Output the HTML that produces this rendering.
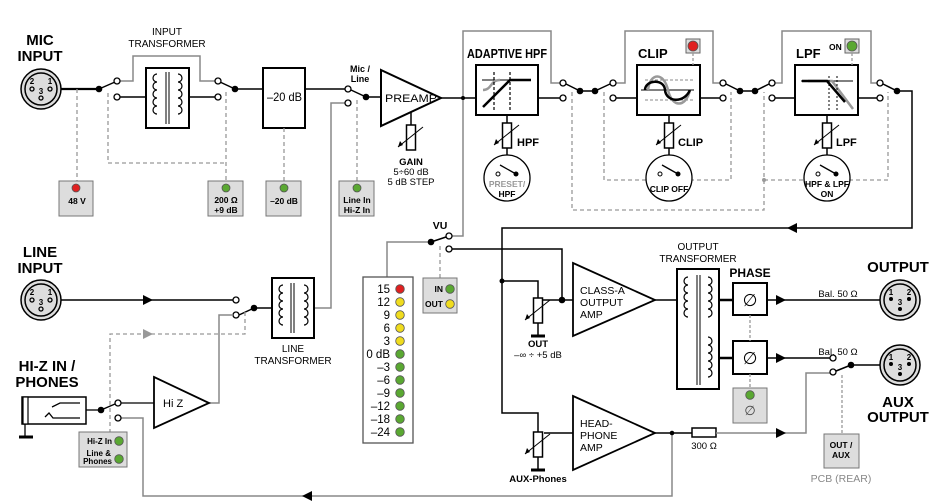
<!DOCTYPE html>
<html><head><meta charset="utf-8"><style>
html,body{margin:0;padding:0;background:#fff;}
svg{display:block;font-family:"Liberation Sans",sans-serif;}
.b{font-weight:bold;}
</style></head><body>
<svg width="946" height="504" viewBox="0 0 946 504" xmlns="http://www.w3.org/2000/svg">
<defs>
<g id="xlr"><circle r="20" fill="#ddd" stroke="#000" stroke-width="1.5"/><circle r="16" fill="#ddd" stroke="#000" stroke-width="1.5"/></g>
<g id="oc"><circle r="3" fill="#fff" stroke="#000" stroke-width="1.3"/></g>
<g id="dot"><circle r="3.3" fill="#000"/></g>
<g id="vr"><rect x="-4.5" y="0" width="9" height="25" fill="#fff" stroke="#000" stroke-width="1.5"/><line x1="-13" y1="22" x2="12" y2="2" stroke="#000" stroke-width="1"/><path d="M-13 22 l2 -6 l3 4z" fill="#000"/></g>
<path id="coil" d="M0 0 a4 4 0 0 1 0 8 a4 4 0 0 1 0 8 a4 4 0 0 1 0 8 a4 4 0 0 1 0 8 a4 4 0 0 1 0 8" fill="none" stroke="#000" stroke-width="1.2"/>
<path id="coilR" d="M0 0 a4 4 0 0 0 0 8 a4 4 0 0 0 0 8 a4 4 0 0 0 0 8 a4 4 0 0 0 0 8 a4 4 0 0 0 0 8" fill="none" stroke="#000" stroke-width="1.2"/>
</defs>

<g class="b" font-size="15" text-anchor="middle">
<text x="40" y="45">MIC</text><text x="40" y="61">INPUT</text>
<text x="40" y="257">LINE</text><text x="40" y="273">INPUT</text>
<text x="47" y="371">HI-Z IN /</text><text x="47" y="387">PHONES</text>
<text x="898" y="272">OUTPUT</text>
<text x="898" y="407">AUX</text><text x="898" y="422">OUTPUT</text>
</g>
<g font-size="10" text-anchor="middle">
<text x="167" y="35">INPUT</text><text x="167" y="47">TRANSFORMER</text>
<text x="293" y="352">LINE</text><text x="293" y="364">TRANSFORMER</text>
<text x="698" y="250">OUTPUT</text><text x="698" y="262">TRANSFORMER</text>
</g>

<use href="#xlr" x="41" y="89"/>
<g font-size="8" class="b" text-anchor="middle"><text x="32" y="84">2</text><text x="50" y="84">1</text><text x="41" y="94">3</text></g>
<g fill="none" stroke="#000" stroke-width="1.3"><circle cx="32" cy="89" r="2"/><circle cx="50" cy="89" r="2"/><circle cx="41" cy="98" r="2"/></g>

<g stroke="#000" stroke-width="1.5" fill="none">
<line x1="61" y1="89" x2="99" y2="89" stroke-width="2.2"/>
<line x1="99" y1="89" x2="115" y2="82"/>
<line x1="120" y1="97" x2="146" y2="97"/>
<rect x="146" y="68" width="43" height="60" stroke-width="2"/>
<line x1="189" y1="97" x2="215" y2="97"/>
<line x1="235" y1="89" x2="220" y2="82"/>
<line x1="235" y1="89" x2="263" y2="89"/>
<rect x="263" y="68" width="42" height="60" stroke-width="2"/>
<line x1="305" y1="89" x2="345" y2="89"/>
<line x1="366" y1="97" x2="351" y2="90"/>
<line x1="366" y1="97" x2="381" y2="97"/>
<path d="M381 70 L441 98 L381 126 Z" stroke-width="2"/>
<line x1="441" y1="98" x2="476" y2="98"/>
<line x1="411" y1="112" x2="411" y2="125"/>
</g>
<g transform="translate(157,74)"><use href="#coilR"/></g>
<g transform="translate(178,74)"><use href="#coil"/></g>
<line x1="166" y1="72" x2="166" y2="124" stroke="#000"/><line x1="169" y1="72" x2="169" y2="124" stroke="#000"/>
<use href="#vr" x="411" y="125"/>
<g text-anchor="middle" font-size="9.5"><text x="411" y="165" class="b">GAIN</text><text x="411" y="175">5÷60 dB</text><text x="411" y="185">5 dB STEP</text></g>
<text x="267" y="101" font-size="12" textLength="35" lengthAdjust="spacingAndGlyphs">–20 dB</text>
<text x="385" y="102" font-size="11" textLength="52" lengthAdjust="spacingAndGlyphs">PREAMP</text>
<g class="b" font-size="9" text-anchor="middle"><text x="360" y="72">Mic /</text><text x="360" y="82">Line</text></g>

<g stroke="#888" stroke-width="1.5" fill="none">
<polyline points="120,81 133,81 133,56 200,56 200,81 215,81"/>
<polyline points="351,103 331,103 331,308 314,308"/>
<polyline points="463,98 463,31 551,31 551,83 560,83"/>
<polyline points="616,83 625,83 625,31 713,31 713,83 720,83"/>
<polyline points="775,83 782,83 782,31 871,31 871,83 877,83"/>
<polyline points="431,242 387,242 387,277"/>
<polyline points="449,236 463,236 463,98"/>
</g>
<use href="#oc" x="117" y="81"/><use href="#oc" x="117" y="97"/><use href="#dot" x="99" y="89"/>
<use href="#oc" x="218" y="81"/><use href="#oc" x="218" y="97"/><use href="#dot" x="235" y="89"/>
<use href="#oc" x="348" y="89"/><use href="#oc" x="348" y="103"/><use href="#dot" x="366" y="97"/>
<circle cx="463" cy="98" r="2" fill="#000"/>

<g stroke="#999" stroke-width="1.3" stroke-dasharray="4,3" fill="none">
<line x1="77" y1="89" x2="77" y2="181"/>
<polyline points="108,93 108,163 226,163"/>
<line x1="226" y1="92" x2="226" y2="181"/>
<line x1="284" y1="128" x2="284" y2="181"/>
<line x1="357" y1="100" x2="357" y2="181"/>
</g>
<g fill="#ddd" stroke="#777" stroke-width="1">
<rect x="59" y="181" width="34" height="35"/><rect x="208" y="181" width="35" height="35"/>
<rect x="266" y="181" width="35" height="35"/><rect x="339" y="181" width="35" height="35"/>
</g>
<g stroke="#555" stroke-width="0.8">
<circle cx="76" cy="188" r="4" fill="#e02020"/><circle cx="226" cy="188" r="4" fill="#5aa832"/>
<circle cx="284" cy="188" r="4" fill="#5aa832"/><circle cx="357" cy="188" r="4" fill="#5aa832"/>
</g>
<g class="b" font-size="8.5" text-anchor="middle">
<text x="77" y="204">48 V</text><text x="226" y="203">200 Ω</text><text x="226" y="213">+9 dB</text>
<text x="284" y="204">–20 dB</text><text x="357" y="203">Line In</text><text x="357" y="213">Hi-Z In</text>
</g>

<g stroke="#000" stroke-width="2" fill="#fff">
<rect x="476" y="65" width="62" height="50"/><rect x="637" y="65" width="63" height="50"/><rect x="795" y="65" width="63" height="50"/>
</g>
<g class="b" font-size="13"><text x="467" y="58" textLength="80" lengthAdjust="spacingAndGlyphs">ADAPTIVE HPF</text><text x="638" y="58">CLIP</text><text x="796" y="58">LPF</text></g>
<g stroke="#000" fill="none">
<line x1="482" y1="80" x2="531" y2="80" stroke-width="1"/>
<polyline points="483,107 510,80 531,80" stroke-width="2.5"/>
<path d="M483 90 C492 90 490 80 500 80" stroke="#999" stroke-width="2.5"/>
<line x1="494" y1="72" x2="494" y2="110" stroke-dasharray="3,2" stroke-width="1.2"/>
<line x1="510" y1="72" x2="510" y2="110" stroke-dasharray="3,2" stroke-width="1.2"/>
</g>
<g fill="none">
<line x1="641" y1="90" x2="694" y2="90" stroke="#000" stroke-width="1"/>
<line x1="645" y1="80" x2="695" y2="80" stroke="#888" stroke-dasharray="3,2"/>
<line x1="645" y1="100" x2="695" y2="100" stroke="#888" stroke-dasharray="3,2"/>
<path d="M648 90 C650 72 664 72 668 90 C672 108 686 108 690 90" stroke="#999" stroke-width="2.5"/>
<path d="M645 90 C645 80 664 78 665 90 C666 102 684 104 690 90" stroke="#000" stroke-width="2.5"/>
</g>
<g fill="none">
<line x1="801" y1="81" x2="853" y2="81" stroke="#000" stroke-width="1"/>
<polyline points="808,81 832,81 853,109" stroke="#999" stroke-width="2.5"/>
<polyline points="802,81 827,81 845,102" stroke="#000" stroke-width="2.5"/>
<line x1="829" y1="76" x2="829" y2="110" stroke="#000" stroke-dasharray="2,2"/>
<line x1="837" y1="76" x2="837" y2="110" stroke="#000" stroke-dasharray="2,2"/>
</g>
<g stroke="#666" fill="#ddd"><rect x="686" y="39" width="14" height="14"/><rect x="845" y="39" width="14" height="14"/></g>
<circle cx="693" cy="46" r="5" fill="#e02020" stroke="#555" stroke-width="0.8"/>
<circle cx="852" cy="46" r="5" fill="#5aa832" stroke="#555" stroke-width="0.8"/>
<text x="829" y="50" font-size="8.5" class="b">ON</text>
<g stroke="#999" stroke-width="1.3" stroke-dasharray="3,2"><line x1="693" y1="53" x2="693" y2="65"/><line x1="852" y1="53" x2="852" y2="65"/></g>

<g stroke="#000" stroke-width="1.5" fill="none">
<line x1="538" y1="98" x2="560" y2="98"/><line x1="616" y1="98" x2="637" y2="98"/>
<line x1="700" y1="98" x2="720" y2="98"/><line x1="775" y1="98" x2="795" y2="98"/>
<line x1="858" y1="98" x2="877" y2="98"/>
<line x1="566" y1="84" x2="580" y2="91"/><line x1="580" y1="91" x2="595" y2="91"/><line x1="595" y1="91" x2="610" y2="84"/>
<line x1="726" y1="84" x2="740" y2="91"/><line x1="740" y1="91" x2="755" y2="91"/><line x1="755" y1="91" x2="769" y2="84"/>
<line x1="883" y1="84" x2="897" y2="91"/>
<polyline points="897,91 912,91 912,228 502,228 502,413 538,413 538,432"/>
<polyline points="502,281 538,281 538,298"/>
<line x1="507" y1="115" x2="507" y2="123"/><line x1="507" y1="148" x2="507" y2="155"/>
<line x1="669" y1="115" x2="669" y2="123"/><line x1="669" y1="148" x2="669" y2="155"/>
<line x1="827" y1="115" x2="827" y2="123"/><line x1="827" y1="148" x2="827" y2="155"/>
</g>
<path d="M797 223 L787 228 L797 233 Z" fill="#000"/>
<use href="#oc" x="563" y="83"/><use href="#oc" x="563" y="98"/><use href="#dot" x="580" y="91"/><use href="#dot" x="595" y="91"/><use href="#oc" x="613" y="83"/><use href="#oc" x="613" y="98"/>
<use href="#oc" x="723" y="83"/><use href="#oc" x="723" y="98"/><use href="#dot" x="740" y="91"/><use href="#dot" x="755" y="91"/><use href="#oc" x="772" y="83"/><use href="#oc" x="772" y="98"/>
<use href="#oc" x="880" y="83"/><use href="#oc" x="880" y="98"/><use href="#dot" x="897" y="91"/>
<circle cx="502" cy="281" r="2.5" fill="#000"/>
<use href="#vr" x="507" y="123"/><use href="#vr" x="669" y="123"/><use href="#vr" x="827" y="123"/>
<g class="b" font-size="11"><text x="517" y="146">HPF</text><text x="678" y="146">CLIP</text><text x="836" y="146">LPF</text></g>
<g stroke="#999" stroke-width="1.3" stroke-dasharray="4,3" fill="none">
<polyline points="572,92 572,210 764,210 764,92"/>
<polyline points="604,92 604,180 648,180"/><polyline points="690,180 731,180 731,92"/>
<polyline points="764,180 806,180"/><polyline points="849,180 888,180 888,92"/>
</g>
<circle cx="764" cy="180" r="2" fill="#999"/>
<g fill="#fff" stroke="#000" stroke-width="1.3"><circle cx="507" cy="178" r="23"/><circle cx="669" cy="178" r="23"/><circle cx="827" cy="178" r="23"/></g>
<g stroke="#000" stroke-width="1.3"><line x1="500" y1="165" x2="516" y2="174"/><line x1="662" y1="165" x2="678" y2="174"/><line x1="820" y1="165" x2="836" y2="174"/></g>
<g><circle cx="498" cy="174" r="2" fill="#fff" stroke="#000"/><circle cx="516" cy="174" r="2.5"/><circle cx="660" cy="174" r="2" fill="#fff" stroke="#000"/><circle cx="678" cy="174" r="2.5"/><circle cx="818" cy="174" r="2" fill="#fff" stroke="#000"/><circle cx="836" cy="174" r="2.5"/></g>
<g class="b" font-size="8.5" text-anchor="middle">
<text x="507" y="187" fill="#999">PRESET/</text><text x="507" y="197">HPF</text>
<text x="669" y="192">CLIP OFF</text>
<text x="827" y="187">HPF &amp; LPF</text><text x="827" y="197">ON</text>
</g>

<text x="440" y="229" class="b" font-size="10.5" text-anchor="middle">VU</text>
<g stroke="#000" stroke-width="1.5" fill="none">
<line x1="431" y1="242" x2="446" y2="237"/>
<polyline points="452,249 562,249 562,300 573,300"/>
<polyline points="538,300 562,300"/>
</g>
<use href="#dot" x="431" y="242"/><use href="#oc" x="449" y="236"/><use href="#oc" x="449" y="249"/>
<line x1="440" y1="246" x2="440" y2="278" stroke="#999" stroke-width="1.3" stroke-dasharray="4,3"/>
<rect x="423" y="278" width="34" height="35" fill="#ddd" stroke="#777"/>
<g class="b" font-size="8.5" text-anchor="end"><text x="443" y="292">IN</text><text x="443" y="307">OUT</text></g>
<circle cx="450" cy="289" r="4.3" fill="#5aa832" stroke="#555" stroke-width="0.8"/>
<circle cx="450" cy="304" r="4.3" fill="#f0dc1e" stroke="#555" stroke-width="0.8"/>
<rect x="363" y="277" width="50" height="166" fill="#fff" stroke="#555" stroke-width="1.3"/>
<g font-size="11.5" text-anchor="end">
<text x="390" y="293">15</text><text x="390" y="306">12</text><text x="390" y="319">9</text><text x="390" y="332">6</text><text x="390" y="345">3</text><text x="390" y="358">0 dB</text><text x="390" y="371">–3</text><text x="390" y="384">–6</text><text x="390" y="397">–9</text><text x="390" y="410">–12</text><text x="390" y="423">–18</text><text x="390" y="436">–24</text>
</g>
<g stroke="#555" stroke-width="0.8">
<circle cx="400" cy="289" r="4.3" fill="#e02020"/><circle cx="400" cy="302" r="4.3" fill="#f0dc1e"/><circle cx="400" cy="315" r="4.3" fill="#f0dc1e"/><circle cx="400" cy="328" r="4.3" fill="#f0dc1e"/><circle cx="400" cy="341" r="4.3" fill="#f0dc1e"/>
<circle cx="400" cy="354" r="4.3" fill="#5aa832"/><circle cx="400" cy="367" r="4.3" fill="#5aa832"/><circle cx="400" cy="380" r="4.3" fill="#5aa832"/><circle cx="400" cy="393" r="4.3" fill="#5aa832"/><circle cx="400" cy="406" r="4.3" fill="#5aa832"/><circle cx="400" cy="419" r="4.3" fill="#5aa832"/><circle cx="400" cy="432" r="4.3" fill="#5aa832"/>
</g>

<use href="#xlr" x="41" y="300"/>
<g font-size="8" class="b" text-anchor="middle"><text x="32" y="295">2</text><text x="50" y="295">1</text><text x="41" y="305">3</text></g>
<g fill="none" stroke="#000" stroke-width="1.3"><circle cx="32" cy="300" r="2"/><circle cx="50" cy="300" r="2"/><circle cx="41" cy="309" r="2"/></g>
<g stroke="#000" stroke-width="1.5" fill="none">
<line x1="61" y1="300" x2="233" y2="300"/>
<line x1="254" y1="308" x2="239" y2="315"/>
<line x1="254" y1="308" x2="272" y2="308"/>
<rect x="272" y="278" width="42" height="60" stroke-width="2"/>
</g>
<path d="M143 295 L153 300 L143 305 Z" fill="#000"/>
<use href="#oc" x="236" y="300"/><use href="#oc" x="236" y="315"/><use href="#dot" x="254" y="308"/>
<g transform="translate(283,285)"><use href="#coilR"/></g>
<g transform="translate(304,285)"><use href="#coil"/></g>
<line x1="291" y1="283" x2="291" y2="333" stroke="#000"/><line x1="294" y1="283" x2="294" y2="333" stroke="#000"/>
<g stroke="#888" stroke-width="1.5" fill="none">
<polyline points="209,403 219,403 219,315 233,315"/>
<polyline points="121,418 143,418 143,496 672,496 672,432"/>
</g>
<path d="M312 491 L302 496 L312 501 Z" fill="#000"/>
<g stroke="#999" stroke-width="1.3" stroke-dasharray="4,3" fill="none">
<polyline points="245,312 245,334 110,334 110,432"/>
</g>
<path d="M143 329 L153 334 L143 339 Z" fill="#999"/>

<rect x="22" y="397" width="64" height="27" fill="#fff" stroke="#000" stroke-width="1.5"/>
<rect x="23" y="397" width="5" height="27" fill="#fff" stroke="#000" stroke-width="1.2"/>
<g stroke="#000" stroke-width="1.3" fill="none"><polyline points="52,407 60,403 80,403"/><polyline points="45,417 49,413 53,418 80,418"/>
<line x1="25" y1="424" x2="25" y2="437"/><line x1="19" y1="437" x2="33" y2="437" stroke-width="3"/>
<line x1="86" y1="410" x2="101" y2="410"/><line x1="101" y1="410" x2="115" y2="404"/>
<line x1="121" y1="403" x2="154" y2="403"/>
<path d="M154 377 L209 403 L154 428 Z" stroke-width="1.8"/>
</g>
<use href="#dot" x="101" y="410"/><use href="#oc" x="118" y="403"/><use href="#oc" x="118" y="418"/>
<text x="163" y="407" font-size="11">Hi Z</text>
<rect x="79" y="432" width="48" height="35" fill="#ddd" stroke="#777"/>
<g class="b" font-size="8" text-anchor="end"><text x="112" y="444">Hi-Z In</text><text x="111" y="456">Line &amp;</text><text x="112" y="464">Phones</text></g>
<circle cx="119" cy="441" r="4.3" fill="#5aa832" stroke="#555" stroke-width="0.8"/>
<circle cx="119" cy="459" r="4.3" fill="#5aa832" stroke="#555" stroke-width="0.8"/>

<g stroke="#000" stroke-width="1.5" fill="none">
<path d="M573 263 L655 300 L573 336 Z" stroke-width="1.8"/>
<path d="M573 396 L655 433 L573 470 Z" stroke-width="1.8"/>
<line x1="655" y1="300" x2="677" y2="300"/>
<rect x="677" y="269" width="42" height="120" stroke-width="2"/>
<line x1="719" y1="300" x2="733" y2="300" stroke-width="2.5"/>
<line x1="719" y1="358" x2="733" y2="358" stroke-width="2.5"/>
<rect x="733" y="283" width="34" height="32" stroke-width="2"/>
<rect x="733" y="341" width="34" height="33" stroke-width="2"/>
<line x1="767" y1="300" x2="880" y2="300"/>
<line x1="767" y1="358" x2="830" y2="358"/>
<line x1="851" y1="365" x2="836" y2="371"/>
<line x1="851" y1="365" x2="880" y2="365"/>
<line x1="655" y1="433" x2="692" y2="433"/>
<rect x="692" y="428" width="24" height="9"/>
<line x1="538" y1="322" x2="538" y2="336"/><line x1="531" y1="336" x2="545" y2="336" stroke-width="3"/>
<line x1="538" y1="457" x2="538" y2="470"/><line x1="531" y1="470" x2="545" y2="470" stroke-width="3"/>
<polyline points="544,433 553,433 573,433"/>
</g>
<g stroke="#888" stroke-width="1.5" fill="none"><polyline points="716,433 806,433 806,373 830,373"/></g>
<circle cx="672" cy="433" r="2.3" fill="#000"/>
<use href="#dot" x="562" y="300"/>
<path d="M776 428 L786 433 L776 438 Z" fill="#000"/>
<path d="M776 295 L786 300 L776 305 Z" fill="#000"/>
<path d="M776 353 L786 358 L776 363 Z" fill="#000"/>
<use href="#vr" x="538" y="298"/><use href="#vr" x="538" y="432"/>
<use href="#oc" x="833" y="358"/><use href="#oc" x="833" y="372"/><use href="#dot" x="851" y="365"/>
<g transform="translate(688,277)"><use href="#coilR"/></g><g transform="translate(708,277)"><use href="#coil"/></g>
<g transform="translate(708,337)"><use href="#coil"/></g>
<line x1="697" y1="275" x2="697" y2="385" stroke="#000"/><line x1="700" y1="275" x2="700" y2="385" stroke="#000"/>
<g font-size="17" text-anchor="middle"><text x="750" y="306">∅</text><text x="750" y="364">∅</text></g>
<g stroke="#999" stroke-width="1.3" stroke-dasharray="3,2"><line x1="750" y1="315" x2="750" y2="341"/><line x1="750" y1="374" x2="750" y2="388"/><line x1="842" y1="375" x2="842" y2="434"/></g>
<rect x="733" y="388" width="34" height="35" fill="#ddd" stroke="#777"/>
<circle cx="750" cy="395" r="4.3" fill="#5aa832" stroke="#555" stroke-width="0.8"/>
<text x="750" y="415" font-size="13" text-anchor="middle" fill="#444">∅</text>
<text x="750" y="277" class="b" font-size="12" text-anchor="middle">PHASE</text>
<g font-size="10.5"><text x="580" y="294">CLASS-A</text><text x="580" y="306">OUTPUT</text><text x="580" y="318">AMP</text>
<text x="580" y="427">HEAD-</text><text x="580" y="439">PHONE</text><text x="580" y="451">AMP</text></g>
<g text-anchor="middle" font-size="9.5"><text x="538" y="347" class="b">OUT</text><text x="538" y="358">–∞ ÷ +5 dB</text>
<text x="538" y="482" class="b">AUX-Phones</text><text x="704" y="449">300 Ω</text>
<text x="838" y="297">Bal. 50 Ω</text><text x="838" y="355">Bal. 50 Ω</text>
<text x="841" y="482" fill="#888" font-size="10.5">PCB (REAR)</text></g>
<rect x="824" y="434" width="35" height="34" fill="#ddd" stroke="#777"/>
<g class="b" font-size="8.5" text-anchor="middle"><text x="841" y="448">OUT /</text><text x="841" y="458">AUX</text></g>

<use href="#xlr" x="900" y="300"/><use href="#xlr" x="900" y="365"/>
<g font-size="8" class="b" text-anchor="middle"><text x="891" y="295">1</text><text x="909" y="295">2</text><text x="900" y="305">3</text><text x="891" y="360">1</text><text x="909" y="360">2</text><text x="900" y="370">3</text></g>
<g fill="#000"><circle cx="891" cy="299" r="2"/><circle cx="909" cy="299" r="2"/><circle cx="900" cy="309" r="2"/><circle cx="891" cy="364" r="2"/><circle cx="909" cy="364" r="2"/><circle cx="900" cy="374" r="2"/></g>
</svg>
</body></html>
